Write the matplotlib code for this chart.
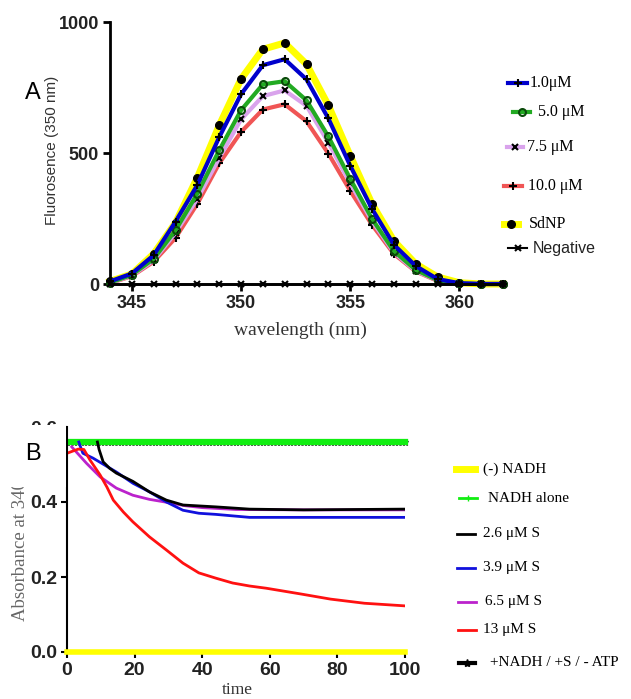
import matplotlib
matplotlib.use('Agg')
import matplotlib.pyplot as plt
from matplotlib.lines import Line2D
from matplotlib.patches import Rectangle

W, H = 631, 699

# ---- panel A data: fluorescence vs wavelength ----
wavelength = [344, 345, 346, 347, 348, 349, 350, 351, 352, 353, 354,
              355, 356, 357, 358, 359, 360, 361, 362]
sdnp = [10, 38, 115, 234, 406, 605, 782, 896, 920, 839, 682, 490, 306, 165, 77, 27, 5, 0, 0]
um_1_0 = [10, 40, 110, 238, 378, 560, 724, 835, 858, 781, 632, 452, 287, 150, 69, 19, 3, 0, 0]
um_5_0 = [5, 35, 96, 205, 345, 510, 663, 762, 774, 701, 563, 402, 249, 126, 54, 15, 2, 0, 0]
um_7_5 = [4, 32, 90, 195, 325, 480, 628, 717, 739, 680, 540, 385, 240, 120, 50, 14, 1, 0, 0]
um_10_0 = [3, 30, 85, 176, 306, 460, 580, 666, 686, 621, 498, 356, 226, 115, 48, 12, 1, 0, 0]
negative = [0, 0, 0, 0, 0, 0, 0, 0, 0, 0, 0, 0, 0, 0, 0, 0, 0, 0, 0]

# ---- panel B data: absorbance vs time ----
t_flat = list(range(0, 101))
no_nadh = [0.0] * len(t_flat)
nadh_alone = [0.56] * len(t_flat)
no_atp = [0.56] * len(t_flat)

t_26 = [9, 9.5, 10.7, 12.6, 14.6, 19.5, 24.4, 29.4, 34.3, 44, 54, 70, 85, 100]
s_26 = [0.56, 0.54, 0.507, 0.49, 0.477, 0.455, 0.427, 0.405, 0.392, 0.387, 0.381, 0.379, 0.38, 0.381]
t_39 = [3.5, 3.8, 4.7, 7.7, 14.6, 19.5, 24.4, 29.4, 34.3, 39, 44, 54, 70, 100]
s_39 = [0.56, 0.552, 0.53, 0.517, 0.48, 0.45, 0.427, 0.40, 0.378, 0.37, 0.367, 0.359, 0.359, 0.359]
t_65 = [1.4, 5.8, 9.8, 14.6, 19.5, 24.4, 29, 35, 40, 50, 70, 100]
s_65 = [0.547, 0.503, 0.467, 0.437, 0.418, 0.407, 0.40, 0.39, 0.385, 0.38, 0.379, 0.379]
t_13 = [0, 3.3, 5, 6.8, 9.8, 11.8, 13.7, 16.7, 19.5, 24.4, 29.4, 34.3, 39, 44, 49, 54, 59, 69, 78, 88, 100]
s_13 = [0.53, 0.541, 0.54, 0.512, 0.472, 0.44, 0.405, 0.373, 0.347, 0.307, 0.272, 0.237, 0.211,
        0.197, 0.184, 0.176, 0.17, 0.155, 0.141, 0.13, 0.123]

SANS = 'Liberation Sans'
SERIF = 'Liberation Serif'


def fx(x):
    return x / W


def fy(y):
    return 1 - y / H


def key(x0, x1, y, **kw):
    # legend key: short line with an optional marker in the middle
    xs = [fx(x0), fx((x0 + x1) / 2), fx(x1)]
    fig.add_artist(Line2D(xs, [fy(y)] * 3, transform=fig.transFigure, markevery=[1], **kw))


fig = plt.figure(figsize=(W / 100, H / 100), dpi=100)

# ================= panel A =================
axA = fig.add_axes([fx(110), fy(284), (503 - 110) / W, (284 - 22) / H])
axA.plot(wavelength, sdnp, color='#ffff00', lw=5, marker='o', ms=5.5, mfc='black', mec='black', clip_on=False)
axA.plot(wavelength, um_10_0, color='#f05555', lw=3, marker='+', ms=6, mec='black', mew=1.5, clip_on=False)
axA.plot(wavelength, um_7_5, color='#d9a3ec', lw=3, marker='x', ms=4.5, mec='black', mew=1.5, clip_on=False)
axA.plot(wavelength, um_5_0, color='#22aa22', lw=3, marker='o', ms=5, mfc='none', mec='#0a4a0a', mew=1.5, clip_on=False)
axA.plot(wavelength, um_1_0, color='#0000cc', lw=3, marker='+', ms=6, mec='black', mew=1.5, clip_on=False)
axA.plot(wavelength, negative, color='black', lw=1.8, marker='x', ms=4, mew=1.5, clip_on=False, zorder=5)

axA.set_xlim(344, 362)
axA.set_ylim(0, 1000)
axA.set_xticks([345, 350, 355, 360])
axA.set_yticks([0, 500, 1000])
for s in ['top', 'right']:
    axA.spines[s].set_visible(False)
for s in ['left', 'bottom']:
    axA.spines[s].set_linewidth(2)
axA.tick_params(width=2, length=5, direction='out', pad=3)
for lab in axA.get_xticklabels() + axA.get_yticklabels():
    lab.set_family(SANS)
    lab.set_fontweight('bold')
    lab.set_fontsize(13)
    lab.set_color('#222222')

fig.text(fx(52), fy(150), 'Fluorosence (350 nm)', rotation=90, ha='center', va='center',
         family=SANS, fontsize=11, color='#333333')
fig.text(fx(300), fy(330), 'wavelength (nm)', ha='center', va='center',
         family=SERIF, fontsize=14, color='#333333')
fig.text(fx(33), fy(93), 'A', ha='center', va='center', family=SANS, fontsize=17)

# legend A
key(508, 527, 83, color='#0000cc', lw=3, marker='+', ms=6, mec='black', mew=1.5)
fig.text(fx(530), fy(83), '1.0μM', va='center', family=SERIF, fontsize=11.5)
key(513, 530, 112, color='#22aa22', lw=3, marker='o', ms=5, mfc='none', mec='#0a4a0a', mew=1.5)
fig.text(fx(538), fy(112), '5.0 μM', va='center', family=SERIF, fontsize=11.5)
key(507, 523, 147, color='#d9a3ec', lw=3, marker='x', ms=4.5, mec='black', mew=1.5)
fig.text(fx(527), fy(147), '7.5 μM', va='center', family=SERIF, fontsize=11.5)
key(504, 522, 186, color='#f05555', lw=3, marker='+', ms=6, mec='black', mew=1.5)
fig.text(fx(528), fy(186), '10.0 μM', va='center', family=SERIF, fontsize=11.5)
key(504, 518, 224, color='#ffff00', lw=5, marker='o', ms=5.5, mfc='black', mec='black')
fig.text(fx(529), fy(224), 'SdNP', va='center', family=SERIF, fontsize=11.5)
key(508, 527, 248, color='black', lw=1.5, marker='x', ms=4, mew=1.5)
fig.text(fx(533), fy(248), 'Negative', va='center', family=SANS, fontsize=11.5, color='#222222')

# ================= panel B =================
axB = fig.add_axes([fx(67), fy(652), (405 - 67) / W, (652 - 427) / H])
axB.plot(t_flat, no_atp, color='black', lw=2, marker='*', ms=5, mec='#555555', clip_on=False)
axB.plot(t_flat, nadh_alone, color='#11ee11', lw=4.5, marker='+', ms=3, mec='#11ee11', clip_on=False)
axB.plot(t_flat, no_nadh, color='#ffff00', lw=4, clip_on=False, zorder=4)
axB.plot(t_65, s_65, color='#bb22cc', lw=2)
axB.plot(t_39, s_39, color='#1111dd', lw=2)
axB.plot(t_26, s_26, color='black', lw=2)
axB.plot(t_13, s_13, color='#ff1111', lw=2)

axB.set_xlim(0, 100)
axB.set_ylim(0, 0.6)
axB.set_xticks([0, 20, 40, 60, 80, 100])
axB.set_yticks([0.0, 0.2, 0.4, 0.6])
axB.set_yticklabels(['0.0', '0.2', '0.4', '0.6'])
for s in ['top', 'right']:
    axB.spines[s].set_visible(False)
for s in ['left', 'bottom']:
    axB.spines[s].set_linewidth(1.5)
axB.tick_params(width=1.5, length=4, direction='out', pad=3)
for lab in axB.get_xticklabels() + axB.get_yticklabels():
    lab.set_family(SANS)
    lab.set_fontweight('bold')
    lab.set_fontsize(14)
    lab.set_color('#222222')

fig.text(fx(21), fy(551), 'Absorbance at 340', rotation=90, ha='center', va='center',
         family=SERIF, fontsize=13.5, color='#666666')
fig.text(fx(237), fy(690), 'time', ha='center', va='center', family=SERIF, fontsize=12.5, color='#333333')

# white box that hides the top-left of panel B, with the B label
fig.add_artist(Rectangle((0, fy(487)), fx(66), (487 - 425) / H, transform=fig.transFigure,
                         facecolor='white', edgecolor='none', zorder=10))
fig.text(fx(33), fy(454), 'B', ha='center', va='center', family=SANS, fontsize=17, zorder=11)

# legend B
key(456, 475, 469, color='#ffff00', lw=5)
fig.text(fx(483), fy(469), '(-) NADH', va='center', family=SERIF, fontsize=11)
key(459, 477, 498, color='#11ee11', lw=2, marker='+', ms=4)
fig.text(fx(488), fy(498), 'NADH alone', va='center', family=SERIF, fontsize=11)
key(457, 475, 534, color='black', lw=2)
fig.text(fx(483), fy(534), '2.6 μM S', va='center', family=SERIF, fontsize=11)
key(457, 475, 568, color='#1111dd', lw=2)
fig.text(fx(483), fy(568), '3.9 μM S', va='center', family=SERIF, fontsize=11)
key(458, 476, 602, color='#bb22cc', lw=2)
fig.text(fx(485), fy(602), '6.5 μM S', va='center', family=SERIF, fontsize=11)
key(458, 476, 630, color='#ff1111', lw=2)
fig.text(fx(483), fy(630), '13 μM S', va='center', family=SERIF, fontsize=11)
key(459, 475, 663, color='black', lw=3, marker='*', ms=6)
fig.text(fx(490), fy(663), '+NADH / +S / - ATP', va='center', family=SERIF, fontsize=11)

fig.savefig('out.png', dpi=100)
